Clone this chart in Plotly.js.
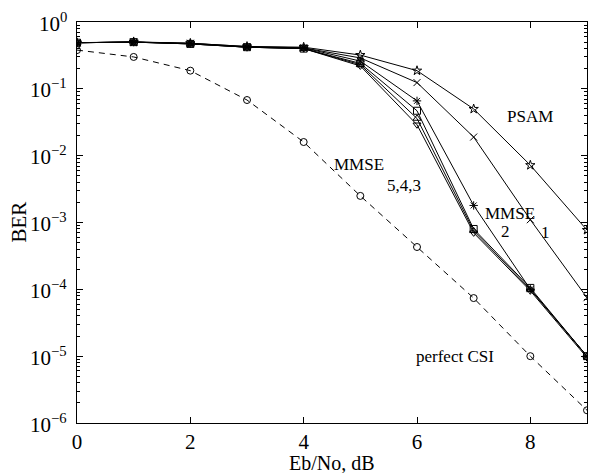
<!DOCTYPE html>
<html>
<head>
<meta charset="utf-8">
<script src="https://cdn.plot.ly/plotly-3.0.1.min.js"></script>
<style>html,body{margin:0;padding:0;background:#fff;}#chart{width:589px;height:473px;}</style>
</head>
<body>
<div id="chart"></div>
<script>
var ebno = [0, 1, 2, 3, 4, 5, 6, 7, 8, 9];
var berPSAM    = [0.49, 0.505, 0.48, 0.43, 0.42, 0.32, 0.187, 0.050, 0.0072, 7.7e-4];
var berMMSE1   = [0.49, 0.50, 0.48, 0.43, 0.41, 0.29, 0.124, 0.019, 1.1e-3, 7.5e-5];
var berMMSE2   = [0.49, 0.50, 0.48, 0.42, 0.41, 0.26, 0.066, 1.8e-3, 1.0e-4, 1.0e-5];
var berMMSE3   = [0.49, 0.50, 0.47, 0.42, 0.40, 0.24, 0.047, 8.0e-4, 1.05e-4, 1.0e-5];
var berMMSE4   = [0.49, 0.50, 0.47, 0.42, 0.40, 0.23, 0.036, 7.5e-4, 1.0e-4, 1.0e-5];
var berMMSE5   = [0.49, 0.50, 0.47, 0.42, 0.40, 0.22, 0.029, 7.0e-4, 0.95e-4, 0.95e-5];
var berPerfect = [0.38, 0.30, 0.187, 0.068, 0.016, 0.0025, 4.3e-4, 7.4e-5, 1.0e-5, 1.55e-6];

var yExponents = [0, -1, -2, -3, -4, -5, -6];

var seriesY = [berPSAM, berMMSE1, berMMSE2, berMMSE3, berMMSE4, berMMSE5];
var seriesSym = ['star-open', 'x-thin-open', 'asterisk-open', 'square-open', 'triangle-up-open', 'triangle-down-open'];
var seriesNames = ['PSAM', 'MMSE 1', 'MMSE 2', 'MMSE 3', 'MMSE 4', 'MMSE 5'];

var serif = 'Liberation Serif, Times New Roman, serif';
var traces = [];
for (var i = 0; i < seriesY.length; i++) {
  traces.push({
    x: ebno, y: seriesY[i], name: seriesNames[i], type: 'scatter', mode: 'lines+markers',
    line: {color: '#000', width: 1},
    marker: {symbol: seriesSym[i], size: 7, color: '#000', line: {color: '#000', width: 1}}
  });
}
traces.push({
  x: ebno, y: berPerfect, name: 'perfect CSI', type: 'scatter', mode: 'lines+markers',
  line: {color: '#000', width: 1, dash: '6px,5px'},
  marker: {symbol: 'circle-open', size: 7, color: '#000', line: {color: '#000', width: 1}}
});

var ann = function (x, ylog, text) {
  return {x: x, y: ylog, xref: 'x', yref: 'y', text: text, showarrow: false,
          font: {family: serif, size: 17, color: '#000'}};
};

var annotations = [
  ann(8.0, -1.41, 'PSAM'),
  ann(4.98, -2.13, 'MMSE'),
  ann(5.77, -2.44, '5,4,3'),
  ann(7.64, -2.86, 'MMSE'),
  ann(7.57, -3.14, '2'),
  ann(8.26, -3.15, '1'),
  ann(6.67, -5.01, 'perfect CSI'),
  {x: 0.5, y: 0, xref: 'paper', yref: 'paper', xanchor: 'center', yanchor: 'top', yshift: -27,
   text: 'Eb/No, dB', showarrow: false, font: {family: serif, size: 20, color: '#000'}},
  {x: 0, y: 0.5, xref: 'paper', yref: 'paper', xanchor: 'center', yanchor: 'middle', xshift: -59,
   textangle: -90, text: 'BER', showarrow: false, font: {family: serif, size: 21, color: '#000'}}
];
// y tick labels 10^n as real text, placed at each decade
yExponents.forEach(function (e) {
  annotations.push({x: 0, y: e, xref: 'paper', yref: 'y', xanchor: 'right', yanchor: 'middle', xshift: -8,
    text: '10<sup>' + (e < 0 ? '\u2212' + (-e) : e) + '</sup>', showarrow: false,
    font: {family: serif, size: 21, color: '#000'}});
});

var layout = {
  width: 589, height: 473,
  margin: {l: 77, r: 2, t: 22, b: 50},
  showlegend: false,
  font: {family: serif, color: '#000'},
  xaxis: {
    range: [0, 9], tick0: 0, dtick: 2, ticks: 'inside', ticklen: 6, tickwidth: 1, tickcolor: '#000',
    showline: true, linecolor: '#000', linewidth: 1, mirror: 'ticks',
    gridcolor: 'rgba(0,0,0,0)', zeroline: false,
    tickfont: {family: serif, size: 21, color: '#000'}
  },
  yaxis: {
    type: 'log', range: [-6, 0], dtick: 1, ticks: 'inside', ticklen: 6, tickwidth: 1, tickcolor: '#000',
    minor: {ticks: 'inside', ticklen: 3, dtick: 'D1', tickcolor: '#000', gridcolor: 'rgba(0,0,0,0)'},
    showline: true, linecolor: '#000', linewidth: 1, mirror: 'ticks',
    gridcolor: 'rgba(0,0,0,0)', showticklabels: false
  },
  annotations: annotations
};

Plotly.newPlot('chart', traces, layout, {displayModeBar: false, staticPlot: true});
</script>
</body>
</html>
